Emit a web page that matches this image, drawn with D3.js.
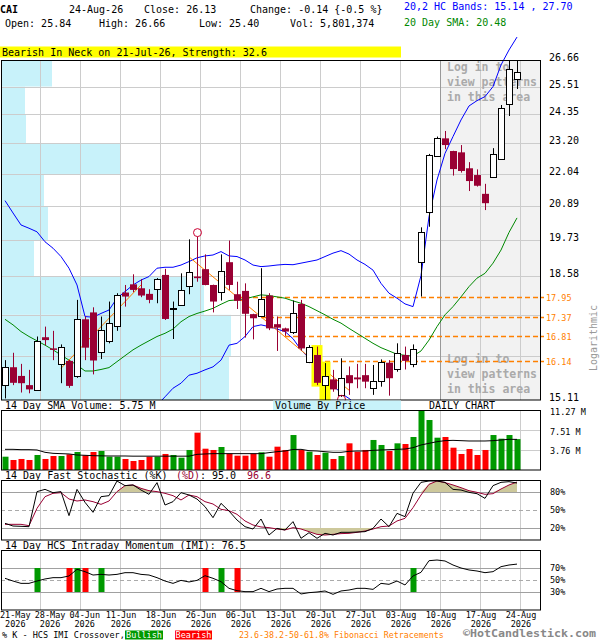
<!DOCTYPE html>
<html><head><meta charset="utf-8">
<script src="https://cdn.jsdelivr.net/npm/d3@7"></script>
<style>body{margin:0;background:#fff}svg{display:block}text{white-space:pre}</style>
</head><body><svg id="c" width="600" height="640"></svg>
<script>
// ---------------- data ----------------
const ticker = "CAI";
const dates = ["21-May","22-May","26-May","27-May","28-May","29-May","01-Jun","02-Jun","03-Jun","04-Jun",
"05-Jun","08-Jun","09-Jun","10-Jun","11-Jun","12-Jun","15-Jun","16-Jun","17-Jun","18-Jun",
"22-Jun","23-Jun","24-Jun","25-Jun","26-Jun","29-Jun","30-Jun","01-Jul","02-Jul","06-Jul",
"07-Jul","08-Jul","09-Jul","10-Jul","13-Jul","14-Jul","15-Jul","16-Jul","17-Jul","20-Jul",
"21-Jul","22-Jul","23-Jul","24-Jul","27-Jul","28-Jul","29-Jul","30-Jul","31-Jul","03-Aug",
"04-Aug","05-Aug","06-Aug","07-Aug","10-Aug","11-Aug","12-Aug","13-Aug","14-Aug","17-Aug",
"18-Aug","19-Aug","20-Aug","21-Aug","24-Aug"];
const year = "2026";
const open = [15.48,15.96,15.73,15.49,15.38,16.78,16.47,16.07,16.13,15.71,
17.29,17.49,16.36,16.68,17.11,18.08,18.33,18.21,18.04,18.18,
18.62,17.60,17.71,18.28,18.57,18.80,18.31,18.09,19.02,18.03,
18.13,17.44,17.39,17.99,17.15,17.03,16.92,17.74,16.11,16.29,
15.51,15.64,15.24,15.75,15.69,15.75,15.43,15.58,16.08,15.93,
16.29,16.04,19.02,20.70,22.69,23.39,22.90,22.85,22.25,22.00,
21.32,21.92,22.59,24.76,25.84];
const high = [16.15,16.35,16.05,15.89,16.80,17.08,16.96,16.58,16.15,17.86,
17.37,17.64,17.37,17.81,18.06,18.31,18.64,18.49,18.18,18.52,
18.81,17.81,18.67,19.76,19.85,19.27,18.32,19.27,19.72,18.41,
18.36,17.45,18.83,18.06,17.37,17.05,17.84,17.86,16.56,16.52,
16.07,15.89,16.20,15.98,16.05,16.05,16.02,16.17,16.15,16.61,
16.52,16.58,20.16,22.79,23.46,23.68,22.91,23.13,22.48,22.21,
21.68,23.01,24.73,26.66,26.66];
const low = [15.15,15.49,15.30,15.28,15.37,16.56,16.15,15.54,15.42,15.68,
16.15,15.77,16.18,16.61,16.96,17.66,18.09,17.94,17.76,17.76,
17.27,16.73,17.69,18.03,18.41,18.30,17.49,17.84,18.16,17.59,
16.77,16.72,17.37,16.98,16.40,16.82,16.87,16.41,16.07,15.49,
15.11,15.32,15.19,15.24,15.41,15.41,15.24,15.45,15.22,15.84,
15.90,15.96,17.96,20.18,22.68,22.97,21.98,22.09,21.42,21.58,
20.75,21.91,22.58,24.28,25.40];
const close = [15.96,15.55,15.54,15.38,16.68,16.70,16.43,16.52,15.47,17.29,
16.49,16.14,16.98,17.18,18.01,17.96,18.16,17.99,17.86,18.49,
17.30,17.62,18.16,18.70,18.52,18.31,17.81,18.75,18.31,17.83,
17.45,17.32,17.88,17.03,17.05,16.94,17.47,16.47,16.52,15.55,
15.74,15.38,15.67,15.54,15.64,15.58,15.60,16.09,15.67,16.35,
16.13,16.45,20.00,22.75,23.39,23.13,22.22,22.15,21.78,21.61,
20.99,22.78,24.60,26.27,26.13];
// volume in millions
const volume = [2.50,1.88,2.07,1.88,2.82,2.07,2.63,2.63,2.94,3.38,
2.76,3.38,3.57,2.50,2.50,2.07,1.69,1.88,2.50,2.50,
3.01,2.82,2.31,3.76,7.01,4.00,3.76,4.32,3.07,2.69,
2.69,3.07,3.32,2.50,4.38,3.76,6.57,3.76,3.44,2.82,
3.25,2.07,2.63,5.01,3.44,3.76,5.64,4.70,3.57,5.01,
4.88,6.20,11.14,9.39,6.07,6.20,4.19,3.01,3.94,2.82,
3.76,6.57,5.88,6.57,5.80];
const volSMA = [3.88,3.88,3.82,3.82,3.76,3.32,3.13,3.07,3.01,2.82,
2.76,2.69,2.66,2.63,2.63,2.63,2.60,2.60,2.60,2.60,
2.60,2.60,2.60,2.60,2.94,3.01,3.07,3.07,3.07,3.07,
3.07,3.07,3.07,3.26,3.44,3.57,3.85,3.88,3.63,3.57,
3.44,3.32,3.32,3.51,3.57,3.57,3.69,3.76,3.82,3.88,
3.94,4.19,4.70,5.01,5.32,5.51,5.57,5.51,5.45,5.45,
5.45,5.51,5.64,5.76,5.75];
const upperBand = [21.08,20.65,20.24,20.13,20.01,19.68,19.47,19.20,18.83,18.31,
17.37,17.35,17.46,17.56,17.91,18.11,18.31,18.46,18.57,18.83,
18.86,18.86,18.93,19.04,19.16,19.22,19.25,19.36,19.22,19.20,
19.09,18.93,18.88,18.90,18.93,18.95,18.94,18.99,19.04,19.09,
19.20,19.31,19.39,19.28,19.09,18.95,18.77,18.36,18.06,17.91,
17.74,17.66,18.60,20.52,21.82,22.81,23.46,24.12,24.69,24.91,
25.08,25.50,26.44,27.11,27.70];
const lowerBand = [null,null,null,null,null,null,null,null,null,null,
null,null,null,null,null,null,null,null,null,14.98,
15.19,15.41,15.54,15.75,15.80,15.89,15.97,16.15,16.56,16.61,
16.80,17.08,17.13,17.08,17.01,16.94,16.74,16.43,16.20,15.97,
15.71,15.49,15.28,15.15,14.98,14.86,14.76,14.68,14.62,null,
null,null,null,null,null,null,null,null,null,null,
null,null,null,null,null];
const sma20 = [17.29,17.13,16.94,16.80,16.68,16.56,16.43,16.29,16.15,16.02,
15.86,15.86,15.90,15.95,16.11,16.27,16.43,16.56,16.68,16.80,
16.89,17.01,17.22,17.37,17.46,17.53,17.61,17.73,17.84,17.86,
17.89,17.95,18.01,17.99,17.95,17.91,17.83,17.76,17.66,17.54,
17.42,17.29,17.18,17.03,16.89,16.75,16.61,16.49,16.40,16.31,
16.28,16.26,16.40,16.70,17.08,17.42,17.66,17.95,18.26,18.52,
18.67,18.99,19.41,19.99,20.48];
const stochK = [27.8,23.3,22.8,22.2,80.6,84.4,78.9,80.6,40.6,84.4,
62.8,46.1,72.2,73.9,98.3,90.6,91.7,83.3,76.1,95.6,
58.3,63.9,78.9,75.0,68.3,55.6,37.2,61.1,48.3,33.3,
22.2,18.3,35.0,8.3,19.4,16.7,30.6,2.8,12.2,2.8,
11.1,8.3,12.8,12.8,13.3,13.9,19.4,35.0,22.2,44.4,
38.9,78.0,96.1,98.3,98.3,96.1,84.4,83.3,79.4,77.2,
69.4,90.6,96.1,97.2,95.0];
const stochD = [26.1,26.1,26.1,23.9,52.8,72.2,77.8,78.9,68.3,65.0,
66.7,63.9,59.4,65.0,80.6,90.6,91.7,86.1,82.2,80.6,
77.8,73.9,66.7,75.0,72.2,63.9,60.0,51.1,48.9,42.8,
31.7,25.0,21.7,20.6,18.3,16.7,20.6,18.3,13.9,9.4,
8.3,9.4,10.6,11.1,12.8,15.0,18.3,22.2,23.3,31.7,
36.1,53.9,75.0,92.8,98.3,95.6,91.7,87.2,82.2,79.4,
76.1,77.2,85.0,91.7,96.6];
const imi = [52.8,48.3,44.4,44.4,48.3,51.7,53.9,53.9,56.7,67.8,
63.9,58.3,59.4,58.3,59.4,62.2,62.2,59.4,58.3,53.9,
48.3,44.4,49.4,46.7,49.4,57.2,52.8,47.2,36.1,32.2,
30.6,30.6,36.1,30.6,35.0,36.1,36.1,26.7,28.9,30.0,
31.7,26.1,31.7,33.3,36.1,36.1,34.4,44.4,42.8,48.3,
41.7,56.7,62.8,82.2,83.3,81.7,75.0,70.0,66.7,65.0,
62.2,63.9,72.2,75.0,76.5];
const bullishIdx = [4,9,12,27,51];
const bearishIdx = [8,10,25,29];
const priceTicks = [15.11,16.265,17.42,18.575,19.73,20.885,22.04,23.195,24.35,25.505,26.66];
const priceTickLabels = ["15.11",null,null,"18.58","19.73","20.89","22.04","23.20","24.35","25.51","26.66"];
// volume-by-price per price bucket (bottom to top), millions
const vbpVolume = [114,115,101.5,16.5,23.5,21.5,60,12.5,12,25.5];
const fibLevels = [17.95,17.37,16.81,16.14];
const fibStartIdx = [29,32,35,40];
const volTicks = [3.76,7.51,11.27];
const stochTicks = [20,50,80];
const imiTicks = [30,50,70];
const labelIdx = [0,4,9,14,19,24,29,34,39,44,49,54,59,64];
const gridIdx = [4,9,14,19,24,29,34,39,44,49,54,59,64];
const patternIdx = [39,40];
const upTrend = [{i:7,p:15.93},{i:17,p:18.31}];
const downTrend = [{i:23,p:19.19},{i:43,p:15.36}];
const swingHighIdx = 24, swingLowIdx = 42;
const hcLower = 15.14, hcUpper = 27.70, smaLast = 20.48;
const changeVal = -0.14, changePct = -0.5, volLast = "5,801,374";
const patternText = "Bearish In Neck on 21-Jul-26, Strength: 32.6";

// ---------------- drawing ----------------
const svg = d3.select('#c');
const FONT = '"DejaVu Sans Mono","Liberation Mono",monospace';
const RED = '#990033', GRN = '#009900', VRED = '#ff0000', ORG = '#ff8000', GRID = '#cccccc';
const PL = 1, PR = 540;
const n = close.length;
const x = d3.scaleLinear().domain([0, n-1]).range([5, 517]);
const yP = d3.scaleLog().domain([15.11, 26.66]).range([400, 60]);
const yV = d3.scaleLinear().domain([0, 11.27]).range([470, 410]);
const yS = d3.scaleLinear().domain([0, 100]).range([540, 480]);
const yI = d3.scaleLinear().domain([0, 100]).range([610, 550]);
const xVbp = d3.scaleLinear().domain([0, 115]).range([PL, PL+230]);
const gx = i => x(i) + 3;

svg.append('rect').attr('width',600).attr('height',640).attr('fill','#fff');

function txt(g, px, py, s, o={}) {
  return g.append('text').attr('x',px).attr('y',py).text(s)
    .attr('font-family',FONT).attr('font-size',o.size||10)
    .attr('font-weight',o.bold?'bold':'normal')
    .attr('fill',o.fill||'#000').attr('text-anchor',o.anchor||'start');
}

// header
txt(svg,0,12.7,ticker,{bold:true});
txt(svg,69,12.7,dates[n-1]+'-'+year.slice(2));
txt(svg,144,12.7,'Close: '+close[n-1].toFixed(2));
txt(svg,250,12.7,'Change: '+changeVal.toFixed(2)+' {'+changePct.toFixed(1)+' %}');
txt(svg,5,27.3,'Open: '+open[n-1].toFixed(2));
txt(svg,99,27.3,'High: '+high[n-1].toFixed(2));
txt(svg,199,27.3,'Low: '+low[n-1].toFixed(2));
txt(svg,290,27.3,'Vol: '+volLast);
txt(svg,404,9.5,'20,2 HC Bands: '+hcLower.toFixed(2)+' , '+hcUpper.toFixed(2),{fill:'#0000ff'});
txt(svg,404,26,'20 Day SMA: '+smaLast.toFixed(2),{fill:'#008800'});
svg.append('rect').attr('x',0).attr('y',46.5).attr('width',401).attr('height',11).attr('fill','#ffff00');
txt(svg,2,55.5,patternText);

// ---------- price panel ----------
const pg = svg.append('g');
vbpVolume.forEach((v,k)=>{
  const y0 = yP(priceTicks[k]), y1 = yP(priceTicks[k+1]);
  pg.append('rect').attr('x',PL).attr('y',y1).attr('width',xVbp(v)-PL).attr('height',y0-y1).attr('fill','#c8f2fa');
});
pg.append('rect').attr('x',gx(54)).attr('y',60).attr('width',PR-gx(54)).attr('height',340).attr('fill','#f2f2f2');
priceTicks.slice(1,-1).forEach(p=>{
  pg.append('line').attr('x1',PL).attr('x2',PR).attr('y1',Math.round(yP(p))+0.5).attr('y2',Math.round(yP(p))+0.5).attr('stroke',GRID);
});
gridIdx.forEach(i=>{
  pg.append('line').attr('x1',gx(i)+0.5).attr('x2',gx(i)+0.5).attr('y1',60).attr('y2',400)
    .attr('stroke', i===54 ? '#999999' : GRID);
});
const loginLines = ['Log in to','view patterns','in this area'];
[71,363].forEach(b=>{
  loginLines.forEach((s,k)=>txt(pg,447,b+k*15,s,{bold:true,size:11.5,fill:'#aaaaaa'}));
});
fibLevels.forEach((f,k)=>{
  const yy = Math.round(yP(f))+0.5;
  pg.append('line').attr('x1',x(fibStartIdx[k])).attr('x2',PR+4).attr('y1',yy).attr('y2',yy)
    .attr('stroke',ORG).attr('stroke-width',1.4).attr('stroke-dasharray','5,3');
  txt(pg,546,yy+3,f.toFixed(2),{size:8.5,fill:ORG});
});
svg.append('clipPath').attr('id','pclip').append('rect').attr('x',0).attr('y',0).attr('width',PR).attr('height',400);
const bandG = pg.append('g').attr('clip-path','url(#pclip)');
const lineOf = arr => d3.line().defined(i=>arr[i]!=null).x(i=>x(i)).y(i=>yP(arr[i]));
const idx = d3.range(n);
bandG.append('path').attr('d',lineOf(upperBand)(idx)).attr('fill','none').attr('stroke','#0000ff').attr('stroke-width',1);
bandG.append('path').attr('d',lineOf(lowerBand)(idx)).attr('fill','none').attr('stroke','#0000ff').attr('stroke-width',1);
bandG.append('path').attr('d',lineOf(sma20)(idx)).attr('fill','none').attr('stroke','#008800').attr('stroke-width',1);
[upTrend,downTrend].forEach(t=>{
  pg.append('line').attr('x1',x(t[0].i)).attr('y1',yP(t[0].p)).attr('x2',x(t[1].i)).attr('y2',yP(t[1].p))
    .attr('stroke',ORG).attr('stroke-width',1);
});
patternIdx.forEach(i=>{
  pg.append('rect').attr('x',x(i)-5.5).attr('width',11).attr('y',yP(high[i])-1.5)
    .attr('height',yP(low[i])-yP(high[i])+3).attr('fill','#ffff00');
});
idx.forEach(i=>{
  const up = close[i] >= open[i];
  const cx = x(i)+0.5;
  pg.append('line').attr('x1',cx).attr('x2',cx).attr('y1',yP(high[i])).attr('y2',yP(low[i]))
    .attr('stroke', up ? '#000' : RED).attr('stroke-width',1);
  const top = yP(Math.max(open[i],close[i])), bot = yP(Math.min(open[i],close[i]));
  if (up) {
    pg.append('rect').attr('x',x(i)-2.5).attr('width',6).attr('y',Math.round(top)+0.5)
      .attr('height',Math.max(1,Math.round(bot-top))).attr('fill','#fff').attr('stroke','#000').attr('stroke-width',1);
  } else {
    pg.append('rect').attr('x',x(i)-3).attr('width',7).attr('y',top)
      .attr('height',Math.max(1.5,bot-top)).attr('fill',RED);
  }
});
pg.append('circle').attr('cx',x(swingHighIdx)+0.5).attr('cy',yP(high[swingHighIdx])-4).attr('r',4)
  .attr('fill','none').attr('stroke','#cc0033').attr('stroke-width',1);
pg.append('circle').attr('cx',x(swingLowIdx)+0.5).attr('cy',yP(low[swingLowIdx])+2.5).attr('r',4)
  .attr('fill','none').attr('stroke','#cc0033').attr('stroke-width',1);
pg.append('rect').attr('x',PL+0.5).attr('y',60.5).attr('width',PR-PL).attr('height',339.5)
  .attr('fill','none').attr('stroke','#000');
priceTicks.forEach((p,k)=>{ if(priceTickLabels[k]) txt(pg,549,yP(p)+1,priceTickLabels[k]); });
txt(svg,0,0,'Logarithmic',{fill:'#999999',anchor:'middle'}).attr('x',null).attr('y',null)
  .attr('transform','translate(597,338) rotate(-90)');

// ---------- volume panel ----------
const vg = svg.append('g');
txt(vg,5,409,'14 Day SMA Volume: '+volSMA[n-1].toFixed(2)+' M');
vg.append('rect').attr('x',273).attr('y',400.5).attr('width',128).attr('height',9.5).attr('fill','#c8f2fa');
txt(vg,275,409,'Volume By Price');
txt(vg,462,409,'DAILY CHART',{anchor:'middle'});
volTicks.slice(0,2).forEach(v=>{
  vg.append('line').attr('x1',PL).attr('x2',PR).attr('y1',Math.round(yV(v))+0.5).attr('y2',Math.round(yV(v))+0.5).attr('stroke',GRID);
});
gridIdx.forEach(i=>vg.append('line').attr('x1',gx(i)+0.5).attr('x2',gx(i)+0.5).attr('y1',410).attr('y2',470).attr('stroke',GRID));
idx.forEach(i=>{
  vg.append('rect').attr('x',x(i)-2.5).attr('width',6).attr('y',yV(volume[i])).attr('height',470-yV(volume[i]))
    .attr('fill', close[i]>=open[i] ? GRN : VRED);
});
vg.append('path').attr('d',d3.line().x(i=>x(i)).y(i=>yV(volSMA[i]))(idx)).attr('fill','none').attr('stroke','#000').attr('stroke-width',1);
vg.append('rect').attr('x',PL+0.5).attr('y',410.5).attr('width',PR-PL).attr('height',59.5).attr('fill','none').attr('stroke','#000');
volTicks.forEach(v=>txt(vg,550,yV(v)+4.5,v.toFixed(2)+' M',{size:8.5}));

// ---------- stochastic panel ----------
const sg = svg.append('g');
txt(sg,5,479,'14 Day Fast Stochastic (%K)');
txt(sg,176,479,'(%D)',{fill:RED});
txt(sg,200,479,': '+stochK[n-1].toFixed(1));
txt(sg,247,479,stochD[n-1].toFixed(1),{fill:RED});
gridIdx.forEach(i=>sg.append('line').attr('x1',gx(i)+0.5).attr('x2',gx(i)+0.5).attr('y1',480).attr('y2',540).attr('stroke',GRID));
stochTicks.forEach(t=>{
  const yy = Math.round(yS(t))+0.5;
  sg.append('line').attr('x1',PL).attr('x2',PR).attr('y1',yy).attr('y2',yy)
    .attr('stroke',t===50?'#aaaaaa':'#a0a0a0').attr('stroke-dasharray',t===50?'4,3':null);
});
sg.append('path').attr('d',d3.area().x(i=>x(i)).y0(yS(80)).y1(i=>yS(Math.max(stochD[i],80)))(idx)).attr('fill','#cdc89b');
sg.append('path').attr('d',d3.area().x(i=>x(i)).y0(yS(20)).y1(i=>yS(Math.min(stochD[i],20)))(idx)).attr('fill','#cdc89b');
sg.append('path').attr('d',d3.line().x(i=>x(i)).y(i=>yS(stochD[i]))(idx)).attr('fill','none').attr('stroke',RED).attr('stroke-width',1);
sg.append('path').attr('d',d3.line().x(i=>x(i)).y(i=>yS(stochK[i]))(idx)).attr('fill','none').attr('stroke','#000').attr('stroke-width',1);
sg.append('rect').attr('x',PL+0.5).attr('y',480.5).attr('width',PR-PL).attr('height',59.5).attr('fill','none').attr('stroke','#000');
stochTicks.forEach(t=>txt(sg,550,yS(t)+3,t+'%',{size:8.5}));

// ---------- IMI panel ----------
const ig = svg.append('g');
txt(ig,5,548.5,'14 Day HCS Intraday Momentum (IMI): '+imi[n-1].toFixed(1));
gridIdx.forEach(i=>ig.append('line').attr('x1',gx(i)+0.5).attr('x2',gx(i)+0.5).attr('y1',550).attr('y2',610).attr('stroke',GRID));
imiTicks.forEach(t=>{
  const yy = Math.round(yI(t))+0.5;
  ig.append('line').attr('x1',PL).attr('x2',PR).attr('y1',yy).attr('y2',yy)
    .attr('stroke',t===50?'#aaaaaa':'#a0a0a0').attr('stroke-dasharray',t===50?'4,3':null);
});
const sig = (arr,col)=>arr.forEach(i=>ig.append('rect').attr('x',x(i)-2.5).attr('width',6)
  .attr('y',yI(70)).attr('height',yI(30)-yI(70)).attr('fill',col));
sig(bullishIdx,GRN); sig(bearishIdx,VRED);
ig.append('path').attr('d',d3.line().x(i=>x(i)).y(i=>yI(imi[i]))(idx)).attr('fill','none').attr('stroke','#000').attr('stroke-width',1);
ig.append('rect').attr('x',PL+0.5).attr('y',550.5).attr('width',PR-PL).attr('height',59.5).attr('fill','none').attr('stroke','#000');
imiTicks.forEach(t=>txt(ig,550,yI(t)+3,t+'%',{size:8.5}));

// ---------- date axis ----------
let prevRight = -10;
const lw = 6*0.602*8.5;
labelIdx.forEach(i=>{
  let c = (i===0 ? x(i)+3 : gx(i)) + 1;
  let left = Math.max(0, c - lw/2, prevRight + 4);
  c = left + lw/2; prevRight = left + lw;
  txt(svg,c,618,dates[i],{size:8.5,anchor:'middle'});
  txt(svg,c,626.5,year,{size:8.5,anchor:'middle'});
});

// ---------- legend ----------
txt(svg,2,637.5,'% K - HCS IMI Crossover,',{size:8.5});
svg.append('rect').attr('x',125).attr('y',630.5).attr('width',38).attr('height',9).attr('fill',GRN);
txt(svg,144,637.5,'Bullish',{size:8.5,fill:'#fff',anchor:'middle'});
svg.append('rect').attr('x',175).attr('y',630.5).attr('width',37).attr('height',9).attr('fill',VRED);
txt(svg,193.5,637.5,'Bearish',{size:8.5,fill:'#fff',anchor:'middle'});
txt(svg,239,637.5,'23.6-38.2-50-61.8% Fibonacci Retracements',{size:8.3,fill:ORG});
txt(svg,463,637,'\u00A9HotCandlestick.com',{size:10.5,bold:true,fill:'#888888'})
  .attr('textLength',133).attr('lengthAdjust','spacingAndGlyphs');
</script>
</body></html>
